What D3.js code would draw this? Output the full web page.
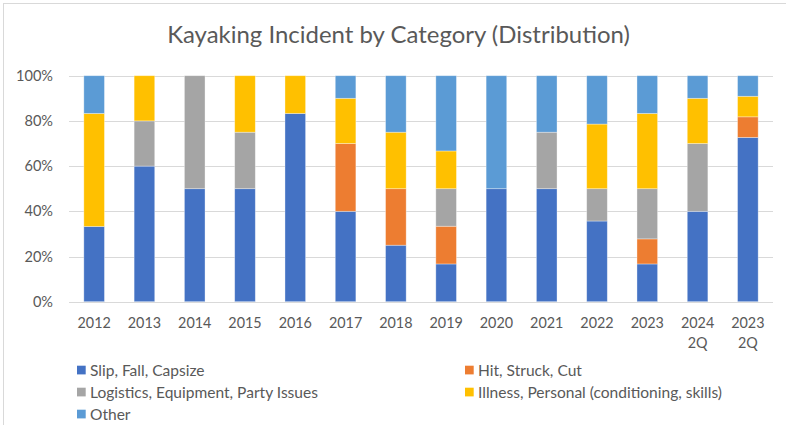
<!DOCTYPE html>
<html>
<head>
<meta charset="utf-8">
<script src="https://cdn.jsdelivr.net/npm/d3@7"></script>
<style>
  html, body { margin: 0; padding: 0; background: #fff; }
  svg { display: block; }
</style>
</head>
<body>
<svg id="chart" width="786" height="425"></svg>
<script>
// ---------- DATA ----------
const categories = ["2012","2013","2014","2015","2016","2017","2018","2019","2020","2021","2022","2023","2024\n2Q","2023\n2Q"];
const seriesNames = ["Slip, Fall, Capsize","Hit, Struck, Cut","Logistics, Equipment, Party Issues","Illness, Personal (conditioning, skills)","Other"];
const slipFallCapsize = [33.3, 60, 50, 50, 83.3, 40, 25, 16.7, 50, 50, 35.7, 16.7, 40, 72.7];
const hitStruckCut    = [0, 0, 0, 0, 0, 30, 25, 16.7, 0, 0, 0, 11.1, 0, 9.1];
const logistics       = [0, 20, 50, 25, 0, 0, 0, 16.6, 0, 25, 14.3, 22.2, 30, 0];
const illness         = [50, 20, 0, 25, 16.7, 20, 25, 16.7, 0, 0, 28.6, 33.3, 20, 9.1];
const other           = [16.7, 0, 0, 0, 0, 10, 25, 33.3, 50, 25, 21.4, 16.7, 10, 9.1];
const yTicks = [0, 0.2, 0.4, 0.6, 0.8, 1.0];
const titleText = "Kayaking Incident by Category (Distribution)";

const colors = ["#4472C4", "#ED7D31", "#A5A5A5", "#FFC000", "#5B9BD5"];
const seriesValues = [slipFallCapsize, hitStruckCut, logistics, illness, other];

// ---------- LAYOUT ----------
const svg = d3.select("#chart");
const FONT = "Lato, 'Open Sans', sans-serif";
const TEXT = "#595959";
const plot = { left: 69, right: 773, top: 75.7, bottom: 301.7 };

// helper: font size that makes text a target width
function fitSize(str, target) {
  const t = svg.append("text").attr("font-family", FONT).attr("font-size", 100).text(str);
  const w = t.node().getComputedTextLength();
  t.remove();
  return 100 * target / w;
}

// chart border
svg.append("rect").attr("x", 3.5).attr("y", 3.5).attr("width", 900).attr("height", 600)
  .attr("fill", "none").attr("stroke", "#d9d9d9").attr("stroke-width", 1);

// table of rows for stacking
const rows = categories.map((c, i) => {
  const r = { cat: c };
  seriesNames.forEach((s, k) => r[s] = seriesValues[k][i]);
  return r;
});
const stack = d3.stack().keys(seriesNames).offset(d3.stackOffsetExpand);
const stacked = stack(rows);

const x = d3.scaleBand().domain(categories).range([plot.left, plot.right])
  .paddingInner(0.59).paddingOuter(0.295);
const y = d3.scaleLinear().domain([0, 1]).range([plot.bottom, plot.top]);

// gridlines
svg.append("g").selectAll("line").data(yTicks).join("line")
  .attr("x1", plot.left).attr("x2", plot.right)
  .attr("y1", d => Math.round(y(d)) + 0.5).attr("y2", d => Math.round(y(d)) + 0.5)
  .attr("stroke", "#d9d9d9").attr("stroke-width", 1);

// y axis labels
const tickSize = fitSize("100%", 37);
const yAxis = d3.axisLeft(y).tickValues(yTicks).tickFormat(d3.format(".0%")).tickSize(0).tickPadding(0);
const gy = svg.append("g").attr("transform", `translate(53,0)`).call(yAxis);
gy.select(".domain").remove();
gy.selectAll("text").attr("font-family", FONT).attr("font-size", tickSize).attr("fill", TEXT).attr("x", 0);

// bars
svg.append("g").selectAll("g").data(stacked).join("g")
  .attr("fill", (d, i) => colors[i])
  .selectAll("rect").data(d => d.filter(p => p[1] - p[0] > 0)).join("rect")
  .attr("x", d => x(d.data.cat))
  .attr("width", x.bandwidth())
  .attr("y", d => y(d[1]))
  .attr("height", d => y(d[0]) - y(d[1]))
  .attr("stroke", "#ffffff").attr("stroke-opacity", 0.45).attr("stroke-width", 0.75);

// x axis labels
const xSize = fitSize("2012", 33.3);
const xAxis = d3.axisBottom(x).tickSize(0).tickPadding(0).tickFormat("");
const gx = svg.append("g").attr("transform", `translate(0,${plot.bottom})`).call(xAxis);
gx.select(".domain").remove();
gx.selectAll(".tick").each(function(d) {
  const lines = d.split("\n");
  const t = d3.select(this).append("text")
    .attr("font-family", FONT).attr("font-size", xSize).attr("fill", TEXT)
    .attr("text-anchor", "middle");
  lines.forEach((ln, j) => {
    t.append("tspan").attr("x", 0).attr("y", 26 + j * 20.5).text(ln);
  });
});

// title
const titleSize = fitSize(titleText, 463);
svg.append("text").attr("x", 398.5).attr("y", 43)
  .attr("text-anchor", "middle").attr("font-family", FONT)
  .attr("font-size", titleSize).attr("fill", TEXT).text(titleText);

// legend
const legSize = fitSize(seriesNames[2], 228);
const legPos = [
  { x: 77, y: 370 }, { x: 465, y: 370 },
  { x: 77, y: 392 }, { x: 465, y: 392 },
  { x: 77, y: 414 }
];
const leg = svg.append("g").selectAll("g").data(seriesNames).join("g")
  .attr("transform", (d, i) => `translate(${legPos[i].x},${legPos[i].y})`);
leg.append("rect").attr("x", 0).attr("y", -4.3).attr("width", 8.7).attr("height", 8.7)
  .attr("fill", (d, i) => colors[i]);
leg.append("text").attr("x", 13).attr("y", 0).attr("dy", "0.36em")
  .attr("font-family", FONT).attr("font-size", legSize).attr("fill", TEXT).text(d => d);
</script>
</body>
</html>
